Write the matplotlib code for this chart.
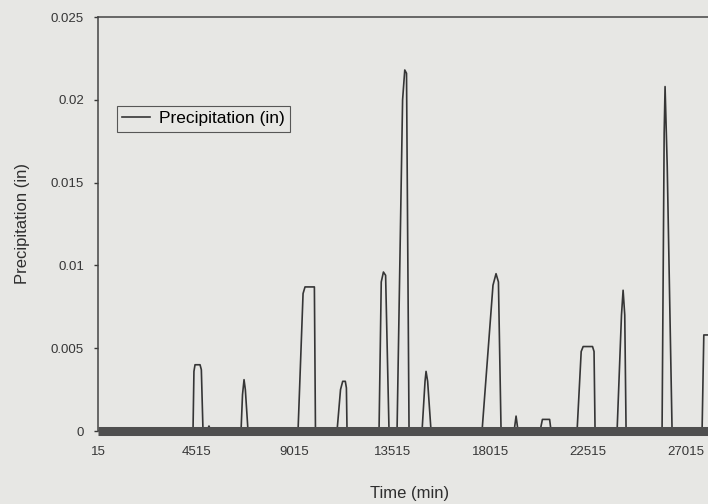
import matplotlib
matplotlib.use('Agg')
import matplotlib.pyplot as plt

plt.rcParams['font.family'] = ['Liberation Sans', 'DejaVu Sans']

# breakpoints of the precipitation series
time_min = [15,
            4377, 4420, 4470, 4700, 4760, 4836,
            5020, 5110, 5200,
            6582, 6650, 6720, 6780, 6903,
            9199, 9430, 9520, 9950, 10000,
            10990, 11150, 11250, 11370, 11420, 11449,
            12918, 13020, 13120, 13220, 13377,
            13745, 14000, 14100, 14180, 14296,
            14893, 15030, 15077, 15150, 15306,
            17648, 18150, 18290, 18400, 18521,
            19120, 19210, 19300,
            20311, 20420, 20750, 20817,
            22011, 22200, 22290, 22720, 22790, 22837,
            23848, 24050, 24124, 24200, 24261,
            25913, 26010, 26051, 26150, 26373,
            27750, 27830, 28100, 28300, 28665]
precip_in = [0,
             0, 0.0036, 0.0040, 0.0040, 0.0037, 0,
             0, 0.0003, 0,
             0, 0.0022, 0.0031, 0.0025, 0,
             0, 0.0083, 0.0087, 0.0087, 0,
             0, 0.0025, 0.0030, 0.0030, 0.0026, 0,
             0, 0.0090, 0.0096, 0.0094, 0,
             0, 0.0200, 0.0218, 0.0216, 0,
             0, 0.0030, 0.0036, 0.0030, 0,
             0, 0.0088, 0.0095, 0.0090, 0,
             0, 0.0009, 0,
             0, 0.0007, 0.0007, 0,
             0, 0.0048, 0.0051, 0.0051, 0.0048, 0,
             0, 0.0070, 0.0085, 0.0070, 0,
             0, 0.0180, 0.0208, 0.0160, 0,
             0, 0.0058, 0.0058, 0, 0]

x_ticks = [15, 4515, 9015, 13515, 18015, 22515, 27015]
y_ticks = [0, 0.005, 0.01, 0.015, 0.02, 0.025]
y_ticklabels = ['0', '0.005', '0.01', '0.015', '0.02', '0.025']

bg = '#e7e7e4'
ink = '#363636'

fig = plt.figure(figsize=(7.08, 5.04), dpi=100, facecolor=bg)
# axes run a little past the right edge, like the cropped original
ax = fig.add_axes([98 / 708, 73 / 504, 624 / 708, 414 / 504], facecolor=bg)

ax.plot(time_min, precip_in, color=ink, lw=1.2, label='Precipitation (in)')
ax.axhline(0, color='#4f4f4f', lw=6.5, clip_on=False, zorder=3,
           solid_capstyle='butt')

ax.set_xlim(15, 28665)
ax.set_ylim(0, 0.025)
ax.set_xticks(x_ticks)
ax.set_xticklabels([str(t) for t in x_ticks])
ax.set_yticks(y_ticks)
ax.set_yticklabels(y_ticklabels)

ax.tick_params(axis='x', length=0, pad=11, labelsize=9.5, colors=ink)
ax.tick_params(axis='y', direction='out', length=3, width=1, pad=7, labelsize=9.5, colors=ink)

for s in ['left', 'top']:
    ax.spines[s].set_color('#444444')
    ax.spines[s].set_linewidth(1.1)
ax.spines['right'].set_visible(False)
ax.spines['bottom'].set_visible(False)

ax.set_xlabel('Time (min)', fontsize=12, color='#2e2e2e', labelpad=20)
ax.set_ylabel('Precipitation (in)', fontsize=12, color='#2e2e2e', labelpad=15)

leg = ax.legend(loc='upper left', bbox_to_anchor=(117 / 708, 1 - 106 / 504),
                bbox_transform=fig.transFigure, fontsize=12.5, frameon=True,
                fancybox=False, borderaxespad=0, handlelength=1.6,
                borderpad=0.3, handletextpad=0.5)
leg.get_frame().set_edgecolor('#333333')
leg.get_frame().set_linewidth(0.8)
leg.get_frame().set_facecolor(bg)

fig.savefig('out.png', dpi=100, facecolor=bg)
